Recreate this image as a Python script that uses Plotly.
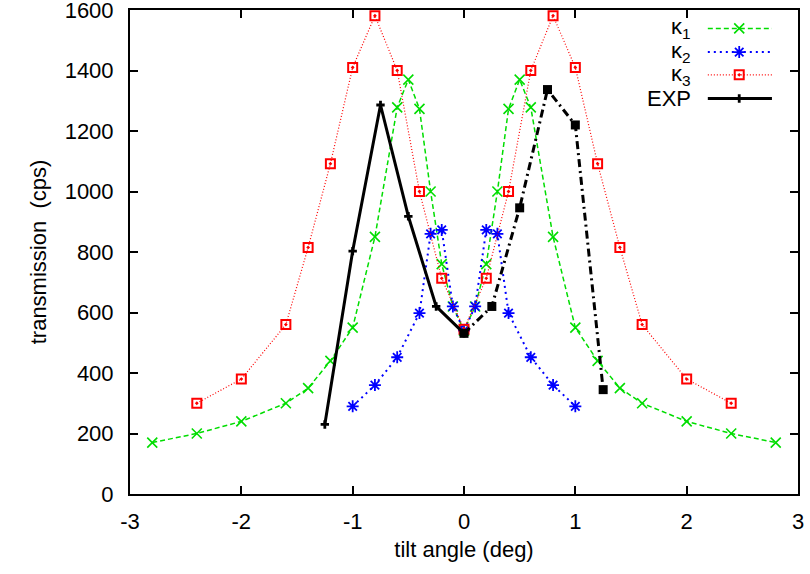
import plotly.graph_objects as go

# ---- data ----
k1_x = [-2.8, -2.4, -2.0, -1.6, -1.4, -1.2, -1.0, -0.8, -0.6, -0.5, -0.4, -0.3, -0.2, -0.1, 0.0,
        0.1, 0.2, 0.3, 0.4, 0.5, 0.6, 0.8, 1.0, 1.2, 1.4, 1.6, 2.0, 2.4, 2.8]
k1_y = [170, 200, 240, 300, 350, 440, 550, 850, 1278, 1370, 1273, 1000, 760, 620, 540,
        620, 760, 1000, 1273, 1370, 1278, 850, 550, 440, 350, 300, 240, 200, 170]

k2_x = [-1.0, -0.8, -0.6, -0.4, -0.3, -0.2, -0.1, 0.0, 0.1, 0.2, 0.3, 0.4, 0.6, 0.8, 1.0]
k2_y = [290, 360, 452, 598, 860, 873, 620, 540, 620, 873, 860, 598, 452, 360, 290]

k3_x = [-2.4, -2.0, -1.6, -1.4, -1.2, -1.0, -0.8, -0.6, -0.4, -0.2, 0.0,
        0.2, 0.4, 0.6, 0.8, 1.0, 1.2, 1.4, 1.6, 2.0, 2.4]
k3_y = [300, 380, 560, 815, 1092, 1410, 1581, 1400, 1000, 713, 545,
        713, 1000, 1400, 1581, 1410, 1092, 815, 560, 380, 300]

exp_left_x = [-1.25, -1.0, -0.75, -0.5, -0.25, 0.0]
exp_left_y = [230, 803, 1286, 918, 620, 531]
exp_right_x = [0.0, 0.25, 0.5, 0.75, 1.0, 1.25]
exp_right_y = [531, 620, 946, 1337, 1220, 345]

x_ticks = [-3, -2, -1, 0, 1, 2, 3]
y_ticks = [0, 200, 400, 600, 800, 1000, 1200, 1400, 1600]

legend_names = ["κ<sub>1</sub>", "κ<sub>2</sub>", "κ<sub>3</sub>", "EXP"]

# ---- styles ----
GREEN = "#00dd00"
BLUE = "#0000ff"
RED = "#ff0000"
BLACK = "#000000"
FONT = "Liberation Sans, Arial, Helvetica, sans-serif"
FS = 22

styles = [
    dict(line=dict(color=GREEN, width=1.5, dash="5px,3px"),
         marker=dict(symbol="x-thin-open", size=10, color=GREEN, line=dict(color=GREEN, width=1.6))),
    dict(line=dict(color=BLUE, width=2, dash="2px,4px"),
         marker=dict(symbol="asterisk-open", size=10, color=BLUE, line=dict(color=BLUE, width=1.8))),
    dict(line=dict(color=RED, width=1.2, dash="1px,2px"),
         marker=dict(symbol="square-open-dot", size=9, color=RED, line=dict(color=RED, width=2))),
    dict(line=dict(color=BLACK, width=3),
         marker=dict(symbol="cross", size=7, color=BLACK)),
]

fig = go.Figure()

series = [(k1_x, k1_y), (k2_x, k2_y), (k3_x, k3_y), (exp_left_x, exp_left_y)]
for (xs, ys), st, nm in zip(series, styles, legend_names):
    fig.add_trace(go.Scatter(x=xs, y=ys, mode="lines+markers", name=nm,
                             line=st["line"], marker=st["marker"], showlegend=False))

fig.add_trace(go.Scatter(x=exp_right_x, y=exp_right_y, mode="lines+markers", showlegend=False,
                         line=dict(color=BLACK, width=3, dash="8px,4px,2px,4px"),
                         marker=dict(symbol="square", size=9, color=BLACK)))

# ---- custom legend (text left, sample right), drawn on a hidden overlay axis ----
LEG_X0, LEG_XM, LEG_X1 = 0.865, 0.912, 0.961
LEG_TEXT_X = 0.843
LEG_ROWS = [0.962, 0.913, 0.866, 0.817]
for row, st, nm in zip(LEG_ROWS, styles, legend_names):
    fig.add_trace(go.Scatter(x=[LEG_X0, LEG_X1], y=[row, row], mode="lines",
                             line=st["line"], xaxis="x2", yaxis="y2",
                             showlegend=False, hoverinfo="skip"))
    fig.add_trace(go.Scatter(x=[LEG_XM], y=[row], mode="markers",
                             marker=st["marker"], xaxis="x2", yaxis="y2",
                             showlegend=False, hoverinfo="skip"))
    fig.add_annotation(x=LEG_TEXT_X, y=row, xref="paper", yref="paper",
                       text=nm, showarrow=False, xanchor="right", yanchor="middle",
                       font=dict(family=FONT, size=FS, color="black"))

axis_common = dict(showline=True, linecolor="black", linewidth=2, mirror="ticks",
                   ticks="inside", ticklen=8, tickwidth=1.5, tickcolor="black",
                   showgrid=False, zeroline=False, automargin=False,
                   ticklabeloverflow="allow",
                   tickfont=dict(family=FONT, size=FS, color="black"))

fig.update_layout(
    width=810, height=574,
    margin=dict(l=130, r=12, t=10, b=80, autoexpand=False),
    plot_bgcolor="white", paper_bgcolor="white",
    showlegend=False,
    font=dict(family=FONT, size=FS, color="black"),
    xaxis=dict(range=[-3, 3], tickvals=x_ticks, ticktext=[str(v) for v in x_ticks],
               ticklabelstandoff=7,
               title=dict(text="tilt angle (deg)", standoff=8,
                          font=dict(family=FONT, size=FS, color="black")),
               **axis_common),
    yaxis=dict(range=[0, 1600], tickvals=y_ticks, ticktext=[str(v) for v in y_ticks],
               ticklabelstandoff=10,
               title=dict(text="transmission  (cps)", standoff=12,
                          font=dict(family=FONT, size=FS, color="black")),
               **axis_common),
    xaxis2=dict(range=[0, 1], overlaying="x", visible=False, fixedrange=True),
    yaxis2=dict(range=[0, 1], overlaying="y", visible=False, fixedrange=True),
)

fig.write_html("out.html", config={"displayModeBar": False},
               post_script="document.body.style.margin='0px';")
